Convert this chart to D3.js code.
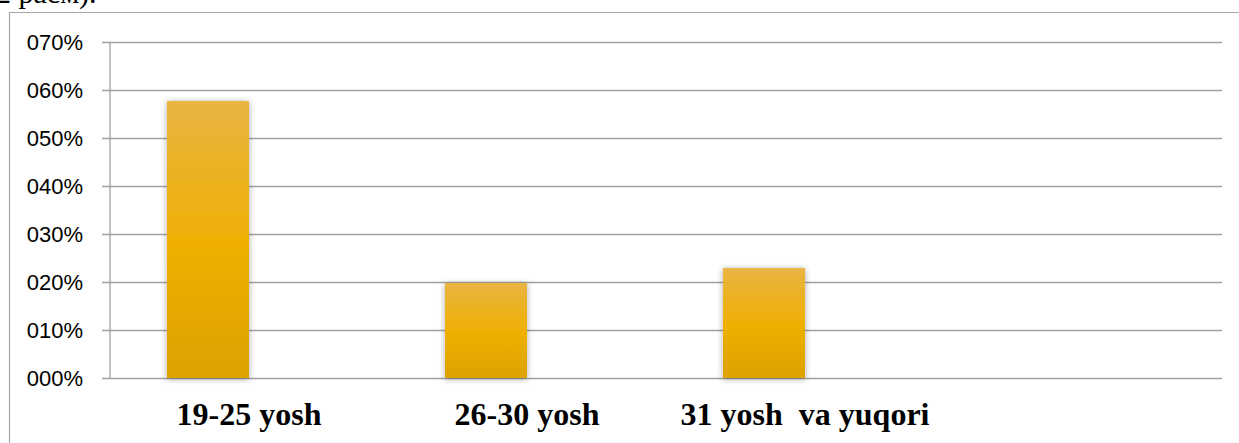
<!DOCTYPE html>
<html>
<head>
<meta charset="utf-8">
<script src="https://cdn.jsdelivr.net/npm/d3@7"></script>
<style>
  body { margin: 0; background: #fff; }
  svg { display: block; }
</style>
</head>
<body>
<div id="chart"></div>
<script>
// categories (the 4th slot is empty in the source sheet)
var categories = ['19-25 yosh', '26-30 yosh', '31 yosh  va yuqori', ''];
var seriesNames = ['s1', 's2'];
var seriesOne = [0.577, 0.198, 0.229, 0];
var seriesTwo = [0, 0, 0, 0];
var yTicks = [0, 0.1, 0.2, 0.3, 0.4, 0.5, 0.6, 0.7];

var width = 1239;
var height = 443;
var plotLeft = 110, plotRight = 1222, plotTop = 42, plotBottom = 378;

var svg = d3.select('#chart')
    .append('svg')
    .attr('width', width)
    .attr('height', height);

var defs = svg.append('defs');
var grad = defs.append('linearGradient')
    .attr('id', 'barGrad')
    .attr('x1', 0).attr('y1', 0).attr('x2', 0).attr('y2', 1);
grad.append('stop').attr('offset', '0%').attr('stop-color', '#E9B443');
grad.append('stop').attr('offset', '50%').attr('stop-color', '#EFB005');
grad.append('stop').attr('offset', '100%').attr('stop-color', '#DCA200');

var shadow = defs.append('filter')
    .attr('id', 'shadow')
    .attr('x', '-30%').attr('y', '-10%').attr('width', '160%').attr('height', '120%');
shadow.append('feDropShadow')
    .attr('dx', 0).attr('dy', 1)
    .attr('stdDeviation', 3)
    .attr('flood-color', '#000')
    .attr('flood-opacity', 0.35);

// caption cut off at the top of the page
svg.append('text')
    .attr('x', -4)
    .attr('y', 3)
    .style('font-family', '"Liberation Serif", "Times New Roman", serif')
    .style('font-size', '30px')
    .attr('fill', '#000')
    .text('2 расм).');

// outer frame (only left and top edges are inside the picture)
svg.append('path')
    .attr('d', 'M9.5,' + (height + 2) + 'V12.5H' + (width + 2))
    .attr('fill', 'none')
    .attr('stroke', '#a6a6a6')
    .attr('stroke-width', 1.2);

var yScale = d3.scaleLinear().domain([0, 0.7]).range([plotBottom, plotTop]);

var x0 = d3.scaleBand()
    .domain(categories)
    .range([plotLeft, plotRight])
    .paddingInner(0.41)
    .paddingOuter(0.205);
var x1 = d3.scaleBand()
    .domain(seriesNames)
    .range([0, x0.bandwidth()]);

// gridlines + ticks
var yAxis = svg.append('g')
    .attr('transform', 'translate(' + plotLeft + ',0)')
    .call(d3.axisLeft(yScale)
        .tickValues(yTicks)
        .tickSize(-(plotRight - plotLeft))
        .tickSizeOuter(0)
        .tickPadding(27)
        .tickFormat(function(d){ return d3.format('03d')(Math.round(d * 100)) + '%'; }));
yAxis.select('.domain').remove();
yAxis.selectAll('.tick line')
    .attr('x1', -8)
    .attr('stroke', '#a0a0a0')
    .attr('stroke-width', 1.3);
yAxis.selectAll('.tick text')
    .style('font-family', '"Liberation Sans", Arial, sans-serif')
    .style('font-size', '22px')
    .attr('fill', '#000');

svg.append('line')
    .attr('x1', plotLeft).attr('x2', plotLeft)
    .attr('y1', yScale(0.7)).attr('y2', yScale(0))
    .attr('stroke', '#a0a0a0')
    .attr('stroke-width', 1.3);

var rows = categories.map(function(c, i){
    return { cat: c, values: [{ key: 's1', value: seriesOne[i] }, { key: 's2', value: seriesTwo[i] }] };
});

var groups = svg.selectAll('g.cat')
    .data(rows)
    .join('g')
    .attr('class', 'cat')
    .attr('transform', function(d){ return 'translate(' + x0(d.cat) + ',0)'; });

groups.selectAll('rect')
    .data(function(d){ return d.values.filter(function(v){ return v.value > 0; }); })
    .join('rect')
    .attr('x', function(d){ return x1(d.key); })
    .attr('y', function(d){ return yScale(d.value); })
    .attr('width', x1.bandwidth())
    .attr('height', function(d){ return yScale(0) - yScale(d.value); })
    .attr('fill', 'url(#barGrad)')
    .attr('filter', 'url(#shadow)');

// category labels
svg.selectAll('text.cat')
    .data(categories)
    .join('text')
    .attr('class', 'cat')
    .attr('x', function(d){ return x0(d) + x0.bandwidth() / 2; })
    .attr('y', 425)
    .attr('text-anchor', 'middle')
    .style('white-space', 'pre')
    .style('font-family', '"Liberation Serif", "Times New Roman", serif')
    .style('font-weight', 'bold')
    .style('font-size', '32px')
    .attr('fill', '#000')
    .text(function(d){ return d; });
</script>
</body>
</html>
